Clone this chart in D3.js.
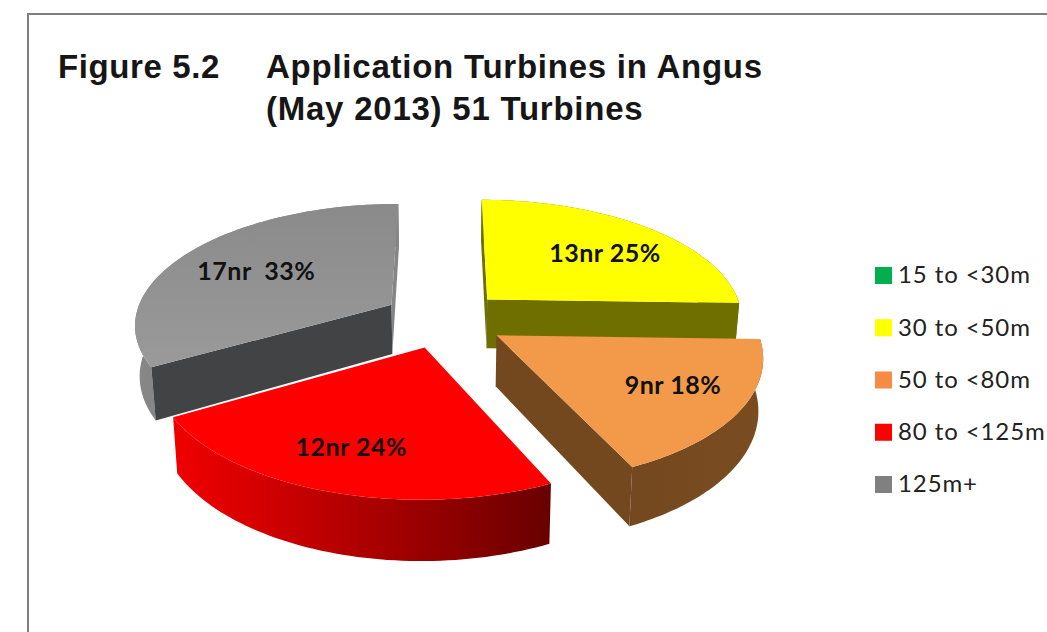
<!DOCTYPE html>
<html>
<head>
<meta charset="utf-8">
<script src="https://cdn.jsdelivr.net/npm/d3@7"></script>
<style>
  body { margin: 0; background: #fff; }
  svg { display: block; }
  text { white-space: pre; }
  .title { font-family: "Liberation Sans", sans-serif; font-weight: bold; font-size: 33px; fill: #161616; }
  .slice-label { font-family: Lato, sans-serif; font-weight: bold; font-size: 25px; letter-spacing: 0.5px; fill: #111; text-anchor: middle; }
  .legend-label { font-family: Lato, sans-serif; font-size: 24px; letter-spacing: 0.9px; fill: #222; }
</style>
</head>
<body>
<script>
// chart data
var categories = ["15 to <30m", "30 to <50m", "50 to <80m", "80 to <125m", "125m+"];
var turbines = [0, 13, 9, 12, 17];
var percents = [0, 25, 18, 24, 33];
var titleLeft = "Figure 5.2";
var titleRight = ["Application Turbines in Angus", "(May 2013) 51 Turbines"];

// colours, same order as categories
var topColors = ["#00b050", "#ffff00", "#f29a4a", "#ff0000", "#8f8f8f"];
var sideColors = ["#006030", "#6f6f00", "#74481f", "#8a0000", "#414345"];
var legendColors = ["#00b050", "#ffff00", "#f68b45", "#ff0000", "#808080"];

var width = 1047, height = 632;

// the pie lies on a tilted plane, these set up the perspective
var center = {x: 444, y: 319},
    explode = 0.24,    // how far each slice is pulled out
    tilt = 0.15,       // perspective strength
    depth = 50,        // thickness of the pie
    shrink = 0.985;    // bottom edge converges a little

var xScale = d3.scaleLinear().domain([-1, 1]).range([-257, 257]);
var yScale = d3.scaleLinear().domain([-1, 1]).range([-120, 120]);

// angle + radius on the plane -> screen point, low=true gives the bottom of the slab
function project(mid, angle, r, low) {
  var X = explode * Math.sin(mid) + r * Math.sin(angle),
      Y = -explode * Math.cos(mid) - r * Math.cos(angle),
      w = 1 - tilt * Y,
      sx = xScale(X) / w,
      sy = yScale(Y) / w;
  if (low) return [center.x + sx * shrink, center.y + sy + depth / w];
  return [center.x + sx, center.y + sy];
}

var pie = d3.pie().sort(null).value(function(d) { return d; });
var arcs = pie(turbines);
var line = d3.line();

// points along the outer edge of a slice
function rimPoints(d, low) {
  var mid = (d.startAngle + d.endAngle) / 2;
  return d3.range(0, 61).map(function(i) {
    return project(mid, d.startAngle + (d.endAngle - d.startAngle) * i / 60, 1, low);
  });
}

// the straight cut face at one angle of a slice
function cutFace(d, angle) {
  var mid = (d.startAngle + d.endAngle) / 2;
  return line([
    project(mid, angle, 0, false),
    project(mid, angle, 1, false),
    project(mid, angle, 1, true),
    project(mid, angle, 0, true)
  ]) + "Z";
}

function topFace(d) {
  var mid = (d.startAngle + d.endAngle) / 2;
  return line([project(mid, 0, 0, false)].concat(rimPoints(d, false))) + "Z";
}

function rimFace(d) {
  return line(rimPoints(d, false).concat(rimPoints(d, true).reverse())) + "Z";
}

var svg = d3.select("body").append("svg")
    .attr("width", width)
    .attr("height", height);

// shading on the rims and tops
var defs = svg.append("defs");
function gradient(id, stops, x2, y2) {
  var g = defs.append("linearGradient").attr("id", id)
      .attr("x1", 0).attr("y1", 0).attr("x2", x2).attr("y2", y2);
  stops.forEach(function(s) {
    g.append("stop").attr("offset", s[0]).attr("stop-color", s[1]);
  });
}
gradient("rim-red", [[0, "#f00000"], [0.2, "#d80000"], [0.5, "#ae0000"], [0.75, "#8c0000"], [1, "#680000"]], 1, 0);
gradient("rim-orange", [[0, "#74481f"], [1, "#7a4c20"]], 1, 0);
gradient("top-gray", [[0, "#8a8a8a"], [1, "#9a9a9a"]], 0, 1);

// window frame of the original figure
svg.append("path")
    .attr("d", line([[28, height], [28, 14], [width, 14]]))
    .attr("fill", "none")
    .attr("stroke", "#7f7f7f")
    .attr("stroke-width", 2);

// title
svg.append("text").attr("class", "title")
    .attr("x", 58).attr("y", 78)
    .attr("letter-spacing", 0.6)
    .text(titleLeft);
svg.selectAll(".title-right")
    .data(titleRight)
  .enter().append("text")
    .attr("class", "title title-right")
    .attr("x", 266)
    .attr("y", function(d, i) { return 78 + i * 42; })
    .attr("letter-spacing", 0.76)
    .text(function(d) { return d; });

// slices, back ones first so the front ones overlap them
var drawOrder = [1, 4, 2, 3];
var sliceG = svg.selectAll(".slice")
    .data(drawOrder.map(function(i) { return arcs[i]; }))
  .enter().append("g")
    .attr("class", "slice");

// outer rim
sliceG.append("path")
    .attr("d", rimFace)
    .attr("fill", function(d) {
      if (d.index === 3) return "url(#rim-red)";
      if (d.index === 2) return "url(#rim-orange)";
      if (d.index === 4) return "#868686";
      return sideColors[d.index];
    });

// cut faces, only the ones facing the viewer
sliceG.filter(function(d) { return d.index === 1 || d.index === 4; })
  .append("path")
    .attr("d", function(d) { return cutFace(d, d.startAngle); })
    .attr("fill", function(d) { return sideColors[d.index]; });
sliceG.filter(function(d) { return d.index === 1 || d.index === 2 || d.index === 4; })
  .append("path")
    .attr("d", function(d) { return cutFace(d, d.endAngle); })
    .attr("fill", function(d) { return d.index === 4 ? "#858585" : sideColors[d.index]; });

// top
sliceG.append("path")
    .attr("d", topFace)
    .attr("fill", function(d) { return d.index === 4 ? "url(#top-gray)" : topColors[d.index]; });

// labels
var labelRadius = [0, 0.7, 0.73, 0.74, 0.65];
var labelNudge = [[0, 0], [3, 6], [3, -4], [-4, -2], [-2, 2]];
var labelGap = ["", " ", " ", " ", "  "];
sliceG.append("text")
    .attr("class", "slice-label")
    .attr("transform", function(d) {
      var mid = (d.startAngle + d.endAngle) / 2,
          p = project(mid, mid, labelRadius[d.index], false),
          n = labelNudge[d.index];
      return "translate(" + (p[0] + n[0]) + "," + (p[1] + n[1]) + ")";
    })
    .attr("dy", ".35em")
    .text(function(d) {
      return turbines[d.index] + "nr" + labelGap[d.index] + percents[d.index] + "%";
    });

// legend
var legendY = d3.scalePoint().domain(categories).range([275, 484]);
var legend = svg.selectAll(".legend")
    .data(categories)
  .enter().append("g")
    .attr("class", "legend")
    .attr("transform", function(d) { return "translate(875," + legendY(d) + ")"; });

legend.append("rect")
    .attr("y", -8)
    .attr("width", 17)
    .attr("height", 17)
    .attr("fill", function(d, i) { return legendColors[i]; });

legend.append("text")
    .attr("class", "legend-label")
    .attr("x", 23)
    .attr("dy", ".35em")
    .text(function(d) { return d; });
</script>
</body>
</html>
